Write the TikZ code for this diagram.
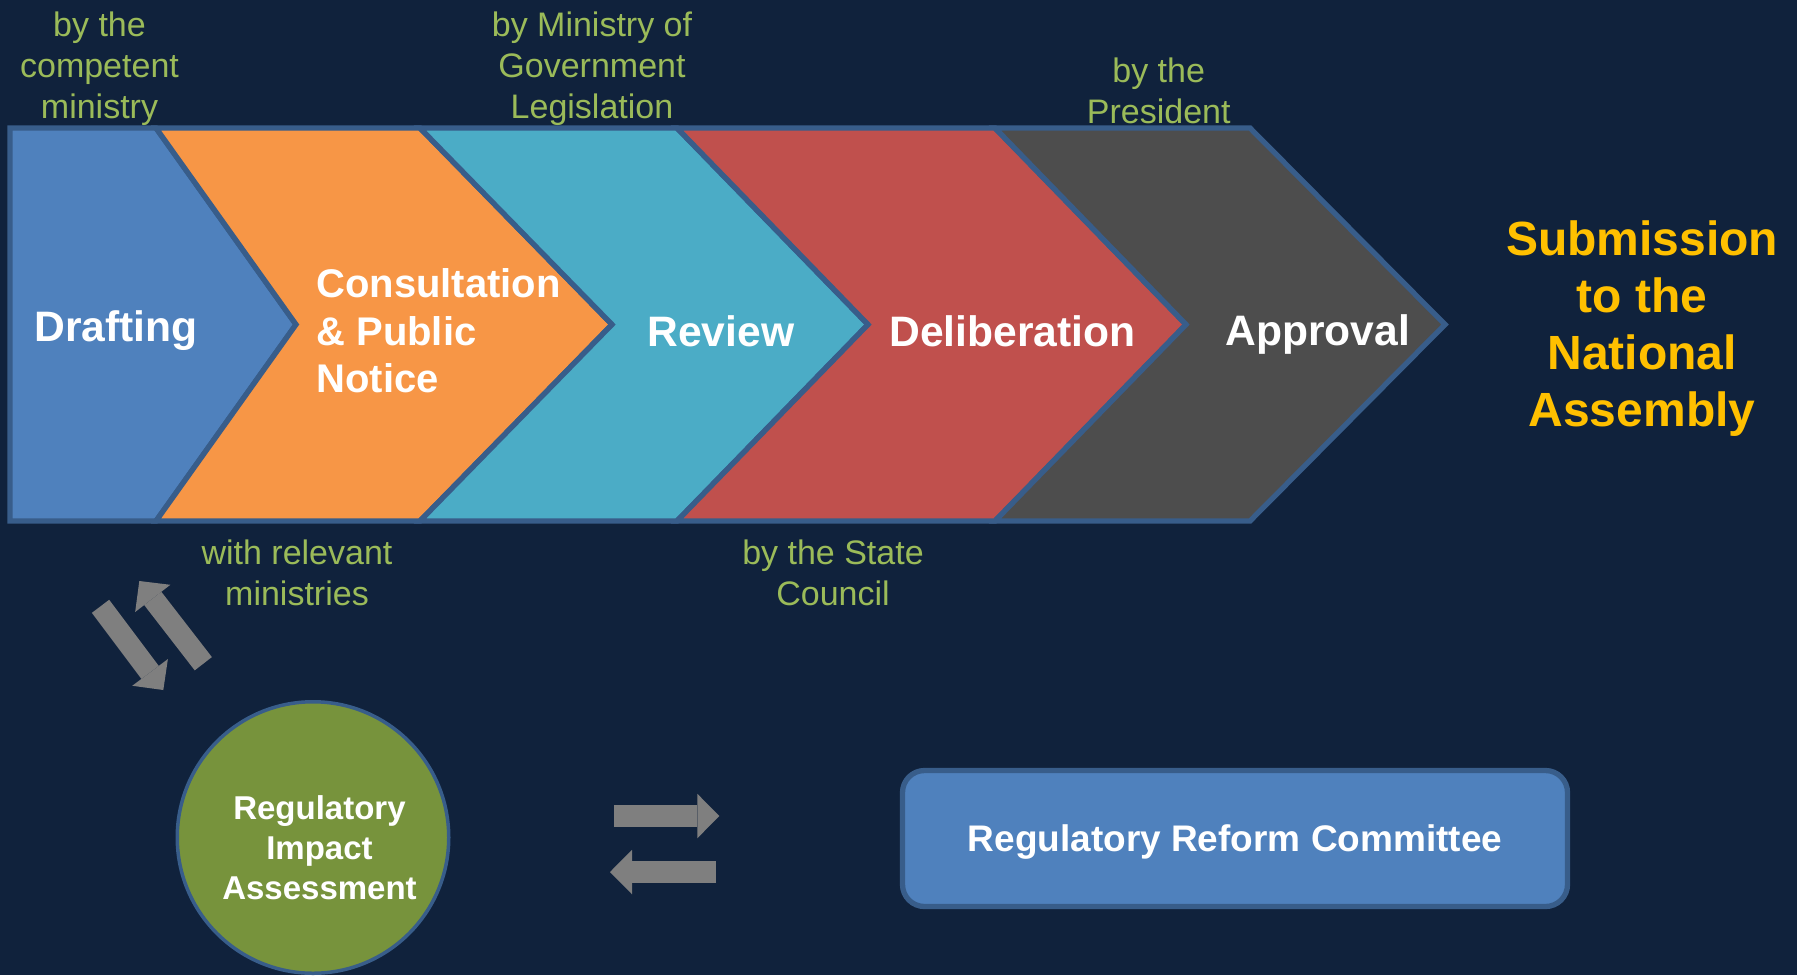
\documentclass[tikz,border=0pt]{standalone}
\usepackage{fontspec}
\setmainfont{Liberation Sans}
\usetikzlibrary{arrows.meta}

\definecolor{bgnavy}{RGB}{16,34,60}
\definecolor{edgeblue}{RGB}{56,93,138}
\definecolor{draftblue}{RGB}{79,129,189}
\definecolor{consorange}{RGB}{247,150,70}
\definecolor{reviewteal}{RGB}{75,172,198}
\definecolor{delibred}{RGB}{192,80,77}
\definecolor{approvgray}{RGB}{77,77,77}
\definecolor{notegreen}{RGB}{155,187,89}
\definecolor{submitgold}{RGB}{255,192,0}
\definecolor{riagreen}{RGB}{119,147,60}
\definecolor{arrowgray}{RGB}{127,127,127}

\tikzset{
  note/.style={text=notegreen, inner sep=0, align=center, anchor=north, font=\fontsize{17}{20.6}\selectfont},
  stage/.style={text=white, inner sep=0, font=\bfseries\fontsize{21.3}{25}\selectfont},
  blockarrow/.style={draw=arrowgray, line width=10.85pt, -{Triangle[width=22.25pt,length=11pt,line width=0pt]}},
}

\begin{document}
\begin{tikzpicture}[x=0.5pt,y=-0.5pt]
\fill[bgnavy] (0,0) rectangle (1797,975);
\useasboundingbox (0,0) rectangle (1797,975);

% chevrons
\foreach \l/\r/\dl/\dr/\col in {10/156/0/140/draftblue, 156/420/140/192/consorange, 420/677/192/191/reviewteal, 677/995/191/191/delibred, 995/1250/191/195/approvgray}
  {\filldraw[fill=\col, draw=edgeblue, line width=2.65pt] (\l,128) -- (\r,128) -- (\r+\dr,324.5) -- (\r,521) -- (\l,521) -- (\l+\dl,324.5) -- cycle;}

\node[stage, anchor=base west] (drafting) at (34,341) {Drafting};
\node[stage, anchor=north west, align=left, font=\bfseries\fontsize{20}{23.75}\selectfont] (consult) at (316,268.5) {Consultation\\\& Public\\Notice};
\node[stage, anchor=base west] (review) at (647,346) {Review};
\node[stage, anchor=base west] (delib) at (889,346) {Deliberation};
\node[stage, anchor=base west] (approval) at (1225,345) {Approval};

\node[text=submitgold, inner sep=0, align=center, anchor=north, font=\bfseries\fontsize{24}{28.6}\selectfont] (submit) at (1642,220) {Submission\\to the\\National\\Assembly};

\node[note] (bycomp) at (99.5,11.5) {by the\\competent\\ministry};
\node[note] (bymogl) at (592,11.5) {by Ministry of\\Government\\Legislation};
\node[note] (bypres) at (1158.7,57) {by the\\President};
\node[note] (withmin) at (297,539) {with relevant\\ministries};
\node[note] (bycouncil) at (833,539) {by the State\\Council};

\node[circle, fill=riagreen, draw=edgeblue, line width=1.75pt, minimum size=135.75pt, inner sep=0] (ria) at (313,837.5) {};
\node[text=white, inner sep=0, align=center, anchor=north, font=\bfseries\fontsize{16.5}{20}\selectfont] (riatext) at (319.5,795.5) {Regulatory\\Impact\\Assessment};

\node[rounded corners=11pt, fill=draftblue, draw=edgeblue, line width=2.65pt, minimum width=332.5pt, minimum height=68pt, inner sep=0, text=white, text depth=0pt, font=\bfseries\fontsize{18.5}{22}\selectfont] (rrc) at (1235,838.5) {Regulatory Reform Committee};

% exchange arrows
\coordinate (rtail) at (614.3,816);
\coordinate (rhead) at (719.3,816);
\coordinate (ltail) at (715.7,872);
\coordinate (lhead) at (610,872);
\coordinate (dtail) at (100.5,606.3);
\coordinate (dhead) at (163.3,690);
\coordinate (utail) at (203.3,663.7);
\coordinate (uhead) at (139.3,581);
\foreach \a/\b in {rtail/rhead, ltail/lhead, dtail/dhead, utail/uhead}
  {\draw[blockarrow] (\a) -- (\b);}

\end{tikzpicture}
\end{document}
